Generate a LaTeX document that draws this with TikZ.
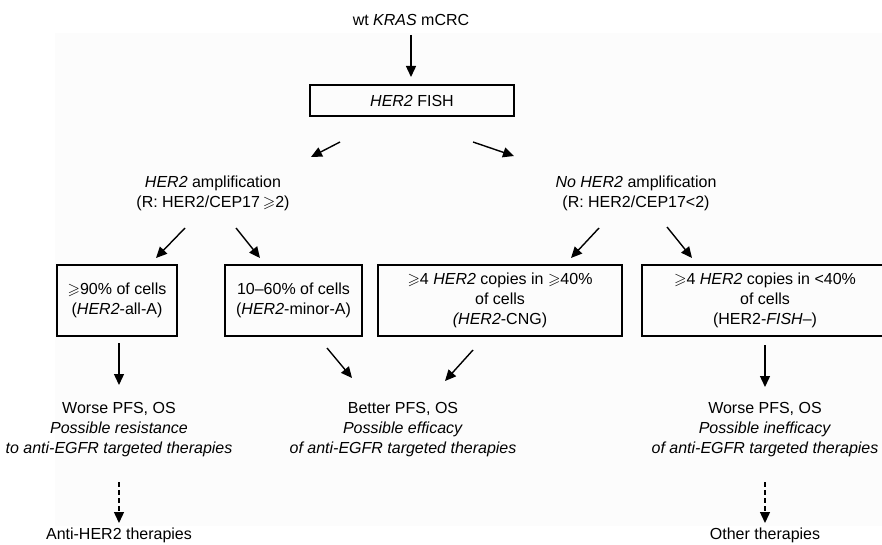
\documentclass[tikz,border=0pt]{standalone}
\usepackage{amssymb}
\usepackage{fontspec}
\setmainfont{Liberation Sans}
\usetikzlibrary{arrows.meta}
\tikzset{
  txt/.style={align=center,inner sep=0pt,font=\fontsize{16}{20}\selectfont},
  boxed/.style={draw,line width=1.4pt,inner sep=0pt,align=center,font=\fontsize{16}{20}\selectfont},
  arr/.style={line width=1.4pt,-{Triangle[length=11pt,width=10pt]}},
  darr/.style={arr,dash pattern=on 5pt off 3pt}
}
\begin{document}
\begin{tikzpicture}[x=1pt,y=-1pt]
\useasboundingbox (0,0) rectangle (882,545);
\clip (0,0) rectangle (882,545);
\fill[black!1] (55,33) rectangle (882,526);
% top
\node[txt] (top) at (411,20) {wt \textit{KRAS} mCRC};
\node[boxed,minimum width=204pt,minimum height=31pt] (fish) at (412,100.5) {\textit{HER2} FISH};
\draw[arr] (411,35) coordinate (t0) -- (411,77) coordinate (t1);
% level 2
\node[txt] (amp) at (213,193) {\textit{HER2} amplification\\(R: HER2/CEP17$\,\geqslant$2)};
\node[txt] (noamp) at (636,193) {\textit{No HER2} amplification\\(R: HER2/CEP17<2)};
\coordinate (f1s) at (340,142); \coordinate (f1e) at (311,157);
\coordinate (f2s) at (473,142); \coordinate (f2e) at (514,156);
\draw[arr] (f1s) -- (f1e);
\draw[arr] (f2s) -- (f2e);
% boxes
\node[boxed,minimum width=120pt,minimum height=71pt] (b1) at (117,300.5) {$\geqslant$90\% of cells\\(\textit{HER2}-all-A)};
\node[boxed,minimum width=137pt,minimum height=71pt] (b2) at (293.5,300.5) {10--60\% of cells\\(\textit{HER2}-minor-A)};
\node[boxed,minimum width=244pt,minimum height=71pt] (b3) at (500,300.5) {$\geqslant$4 \textit{HER2} copies in $\geqslant$40\%\\of cells\\\textit{(HER2}-CNG)};
\node[boxed,minimum width=246pt,minimum height=71pt] (b4) at (765,300.5) {$\geqslant$4 \textit{HER2} copies in <40\%\\of cells\\(HER2-\textit{FISH}--)};
\coordinate (a1s) at (185,228); \coordinate (a1e) at (156,258);
\coordinate (a2s) at (236,228); \coordinate (a2e) at (260,258);
\coordinate (n1s) at (599,228); \coordinate (n1e) at (571,258);
\coordinate (n2s) at (667,227); \coordinate (n2e) at (692,258);
\draw[arr] (a1s) -- (a1e);
\draw[arr] (a2s) -- (a2e);
\draw[arr] (n1s) -- (n1e);
\draw[arr] (n2s) -- (n2e);
% outcomes
\node[txt] (o1) at (119,430) {Worse PFS, OS\\\textit{Possible resistance}\\\textit{to anti-EGFR targeted therapies}};
\node[txt] (o2) at (403,430) {Better PFS, OS\\\textit{Possible efficacy}\\\textit{of anti-EGFR targeted therapies}};
\node[txt] (o3) at (765,430) {Worse PFS, OS\\\textit{Possible inefficacy}\\\textit{of anti-EGFR targeted therapies}};
\draw[arr] (119,343) coordinate (d1s) -- (119,385) coordinate (d1e);
\draw[arr] (765,345) coordinate (d3s) -- (765,387) coordinate (d3e);
\coordinate (c1s) at (327,348); \coordinate (c1e) at (352,378);
\coordinate (c2s) at (473,350); \coordinate (c2e) at (445,381);
\draw[arr] (c1s) -- (c1e);
\draw[arr] (c2s) -- (c2e);
% therapies
\node[txt] (t1n) at (119,535) {Anti-HER2 therapies};
\node[txt] (t3n) at (765,535) {Other therapies};
\draw[darr] (119,482) coordinate (e1s) -- (119,523) coordinate (e1e);
\draw[darr] (765,482) coordinate (e3s) -- (765,523) coordinate (e3e);
\end{tikzpicture}
\end{document}
